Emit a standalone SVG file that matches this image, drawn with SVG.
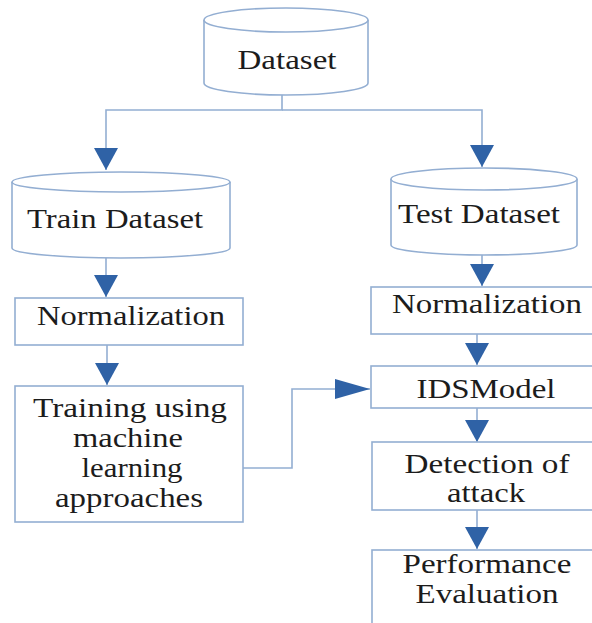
<svg xmlns="http://www.w3.org/2000/svg" width="592" height="623" viewBox="0 0 592 623">
<style>
.shape{fill:#fff;stroke:#93aed2;stroke-width:1.6}
.con{fill:none;stroke:#93aed2;stroke-width:1.6}
.t{font-family:"Liberation Serif","Times New Roman",serif;font-size:27px;fill:#1c1c1c;text-anchor:middle}
</style>
<defs>
<marker id="ah" markerUnits="userSpaceOnUse" markerWidth="22" markerHeight="24" refX="22" refY="12" orient="auto" viewBox="0 0 22 24">
<path d="M0,0 L22,12 L0,24 Z" fill="#2f62a6"/>
</marker>
<marker id="ahw" markerUnits="userSpaceOnUse" markerWidth="35" markerHeight="20" refX="35" refY="10" orient="auto" viewBox="0 0 35 20">
<path d="M0,0 L35,10 L0,20 Z" fill="#2f62a6"/>
</marker>
</defs>
<rect width="592" height="623" fill="#fff"/>
<g id="connectors">
<path class="con" d="M282,95 V110 H106 V170" marker-end="url(#ah)"/>
<path class="con" d="M282,110 H482 V167" marker-end="url(#ah)"/>
<path class="con" d="M106,258 V297" marker-end="url(#ah)"/>
<path class="con" d="M107,345 V385" marker-end="url(#ah)"/>
<path class="con" d="M482,255 V286" marker-end="url(#ah)"/>
<path class="con" d="M477,334 V365" marker-end="url(#ah)"/>
<path class="con" d="M477,408 V442" marker-end="url(#ah)"/>
<path class="con" d="M477,510 V549" marker-end="url(#ah)"/>
<path class="con" d="M243,468 H292 V389 H370" marker-end="url(#ahw)"/>
</g>
<g id="dataset">
<path class="shape" d="M204,20 V83 A82,12 0 0 0 368,83 V20"/>
<ellipse class="shape" cx="286" cy="20" rx="82" ry="12"/>
<text class="t" x="287" y="69" textLength="99" lengthAdjust="spacingAndGlyphs">Dataset</text>
</g>
<g id="train-dataset">
<path class="shape" d="M12,182 V248 A109,10 0 0 0 230,248 V182"/>
<ellipse class="shape" cx="121" cy="182" rx="109" ry="10"/>
<text class="t" x="115" y="228" textLength="176" lengthAdjust="spacingAndGlyphs">Train Dataset</text>
</g>
<g id="test-dataset">
<path class="shape" d="M391,179 V245 A93,10 0 0 0 577,245 V179"/>
<ellipse class="shape" cx="484" cy="179" rx="93" ry="11"/>
<text class="t" x="479" y="223" textLength="162" lengthAdjust="spacingAndGlyphs">Test Dataset</text>
</g>
<g id="normalization-left">
<rect class="shape" x="15" y="298" width="228" height="47"/>
<text class="t" x="131" y="325" textLength="188" lengthAdjust="spacingAndGlyphs">Normalization</text>
</g>
<g id="training">
<rect class="shape" x="15" y="386" width="228" height="136"/>
<text class="t" x="130" y="417" textLength="194" lengthAdjust="spacingAndGlyphs">Training using</text>
<text class="t" x="128" y="447" textLength="110" lengthAdjust="spacingAndGlyphs">machine</text>
<text class="t" x="132" y="477" textLength="101" lengthAdjust="spacingAndGlyphs">learning</text>
<text class="t" x="129" y="507" textLength="148" lengthAdjust="spacingAndGlyphs">approaches</text>
</g>
<g id="normalization-right">
<rect class="shape" x="371" y="287" width="240" height="47"/>
<text class="t" x="487" y="313" textLength="190" lengthAdjust="spacingAndGlyphs">Normalization</text>
</g>
<g id="idsmodel">
<rect class="shape" x="371" y="366" width="240" height="42"/>
<text class="t" x="486" y="398" textLength="139" lengthAdjust="spacingAndGlyphs">IDSModel</text>
</g>
<g id="detection">
<rect class="shape" x="372" y="442" width="240" height="68"/>
<text class="t" x="487" y="473" textLength="165" lengthAdjust="spacingAndGlyphs">Detection of</text>
<text class="t" x="486" y="502" textLength="78" lengthAdjust="spacingAndGlyphs">attack</text>
</g>
<g id="performance">
<rect class="shape" x="372" y="550" width="240" height="90"/>
<text class="t" x="487" y="573" textLength="169" lengthAdjust="spacingAndGlyphs">Performance</text>
<text class="t" x="487" y="603" textLength="143" lengthAdjust="spacingAndGlyphs">Evaluation</text>
</g>
</svg>
